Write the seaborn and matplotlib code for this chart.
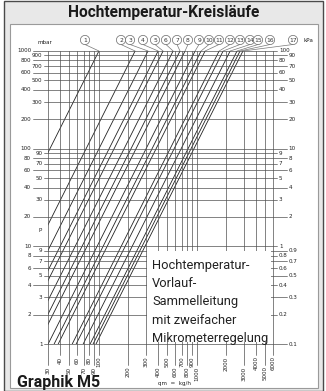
import numpy as np
import pandas as pd
import matplotlib
matplotlib.use('Agg')
import matplotlib.pyplot as plt
import seaborn as sns
from matplotlib.patches import Rectangle, Circle
from matplotlib.transforms import blended_transform_factory as blend

# --- data ---
curve_ids = list(range(1, 18))
# qm (kg/h) where each curve reaches 1000 mbar
q_top = [100, 234, 317, 402, 452, 572, 673, 757, 959, 1103, 1213, 1687, 1854, 2186, 2570, 2758, 2954]
# lower end of each curve (qm, mbar)
q_low = [30, 30, 30, 30, 30, 30, 30, 30, 30.3, 34.9, 38.4, 53.4, 58.6, 69.1, 81.3, 87.2, 93.4]
p_low = [90, 16.4, 8.96, 5.57, 4.40, 2.75, 1.99, 1.57, 1, 1, 1, 1, 1, 1, 1, 1, 1]
# circled labels above the chart (pixel x)
circle_x = [85, 121, 130, 143, 155, 166, 177, 188, 199, 209, 219, 230, 240, 250, 258, 270, 293]

p_ticks = [1, 2, 3, 4, 5, 6, 7, 8, 9, 10, 20, 30, 40, 50, 60, 70, 80, 90,
           100, 200, 300, 400, 500, 600, 700, 800, 900, 1000]
p_left_far = [0, 1, 0, 1, 0, 1, 0, 1, 0, 1, 1, 0, 1, 0, 1, 0, 1, 0,
              1, 1, 0, 1, 0, 1, 0, 1, 0, 1]
kpa_labels = ['0.1', '0.2', '0.3', '0.4', '0.5', '0.6', '0.7', '0.8', '0.9', '1',
              '2', '3', '4', '5', '6', '7', '8', '9',
              '10', '20', '30', '40', '50', '60', '70', '80', '90', '100']
kpa_far = [1, 0, 1, 0, 1, 0, 1, 0, 1, 0, 1, 0, 1, 0, 1, 0, 1, 0,
           1, 1, 1, 0, 1, 0, 1, 0, 1, 0]

q_ticks = [30, 40, 50, 60, 70, 80, 90, 100, 200, 300, 400, 500, 600, 700, 800, 900,
           1000, 2000, 3000, 4000, 5000, 6000]
q_far = [1, 0, 1, 0, 1, 0, 1, 0, 1, 0, 1, 0, 1, 0, 1, 0, 1, 0, 1, 0, 1, 0]

box_lines = ['Hochtemperatur-', 'Vorlauf-', 'Sammelleitung', 'mit zweifacher', 'Mikrometerregelung']

rows = []
for cid, ql, pl, qt in zip(curve_ids, q_low, p_low, q_top):
    rows.append({'curve': cid, 'qm': ql, 'dp': pl})
    rows.append({'curve': cid, 'qm': qt, 'dp': 1000})
df = pd.DataFrame(rows)

sns.set_style('white')
plt.rcParams['font.family'] = ['DejaVu Sans']

W, H = 326, 391
fig = plt.figure(figsize=(W / 100, H / 100), dpi=100)
bg = fig.add_axes([0, 0, 1, 1])
bg.set_xlim(0, W)
bg.set_ylim(H, 0)
bg.axis('off')

# frame
bg.add_patch(Rectangle((3.5, 0.5), 319, 390, facecolor='#e8e8e8', edgecolor='#4a4a4a', lw=1.0))
bg.add_patch(Rectangle((10, 24), 308, 364, facecolor='white', edgecolor='#9a9a9a', lw=0.8))
title_font = ['Liberation Sans Narrow', 'Roboto', 'DejaVu Sans']
bg.text(164, 13, 'Hochtemperatur-Kreisläufe', ha='center', va='center', fontsize=11.2,
        fontweight='bold', family=title_font, color='#1a1a1a')
bg.text(17, 382, 'Graphik M5', ha='left', va='center', fontsize=11.5,
        fontweight='bold', family=title_font, color='#1a1a1a')

x0, x1, y0, y1 = 47.7, 273.1, 51, 344
ax = fig.add_axes([x0 / W, (H - y1) / H, (x1 - x0) / W, (y1 - y0) / H])
ax.set_xscale('log')
ax.set_yscale('log')
sns.lineplot(data=df, x='qm', y='dp', units='curve', estimator=None, color='#222222',
             lw=0.6, ax=ax, legend=False)
ax.set_xlim(30, 6000)
ax.set_ylim(1, 1000)
ax.axis('off')
ax.patch.set_alpha(0)

tr_h = blend(bg.transData, ax.transData)   # x pixels, y mbar
tr_v = blend(ax.transData, bg.transData)   # x qm, y pixels
small = 4.1
gc = '#505050'

for p, lf, lab, rf in zip(p_ticks, p_left_far, kpa_labels, kpa_far):
    xs = 33 if lf else 44
    xe = 287 if rf else 277
    ax.plot([xs, xe], [p, p], color=gc, lw=0.5, transform=tr_h, clip_on=False)
    ax.text(31 if lf else 42.5, p, str(p), ha='right', va='center', fontsize=small,
            transform=tr_h, color='#222')
    ax.text(288.5 if rf else 279, p, lab, ha='left', va='center', fontsize=small,
            transform=tr_h, color='#222')

for q, f in zip(q_ticks, q_far):
    ye = 365 if f else 355
    ax.plot([q, q], [y0, ye], color=gc, lw=0.5, transform=tr_v, clip_on=False)
    ax.text(q, ye + 1.5, str(q), rotation=90, ha='center', va='top', fontsize=small,
            transform=tr_v, color='#222')

# circled curve numbers with leader lines
for cid, cx, qt in zip(curve_ids, circle_x, q_top):
    ax.annotate('', xy=(qt, 1000), xycoords='data', xytext=(cx, 44.5),
                textcoords=bg.transData,
                arrowprops=dict(arrowstyle='-', color='#777', lw=0.5,
                                shrinkA=0, shrinkB=0))
    bg.add_patch(Circle((cx, 40), 4.6, facecolor='white', edgecolor='#666', lw=0.5))
    bg.text(cx, 40.3, str(cid), ha='center', va='center', fontsize=4.3, color='#333')

bg.text(45, 43, 'mbar', ha='center', va='center', fontsize=small, color='#222')
bg.text(308, 41, 'kPa', ha='center', va='center', fontsize=small, color='#222')
bg.text(40, 231, 'P', ha='center', va='center', fontsize=small, color='#222')
bg.text(174, 383, 'qm  =  kg/h', ha='center', va='center', fontsize=small, color='#222')

# white text box over the grid
ax.add_patch(Rectangle((147, 251), 124, 91, transform=bg.transData, facecolor='white',
                       edgecolor='none', zorder=5, clip_on=False))
for i, line in enumerate(box_lines):
    ax.text(152, 265 + i * 18.4, line, ha='left', va='center', fontsize=9.3,
            family=['Roboto', 'DejaVu Sans'], color='#222', transform=bg.transData,
            zorder=6)

fig.savefig('out.png', dpi=100)
